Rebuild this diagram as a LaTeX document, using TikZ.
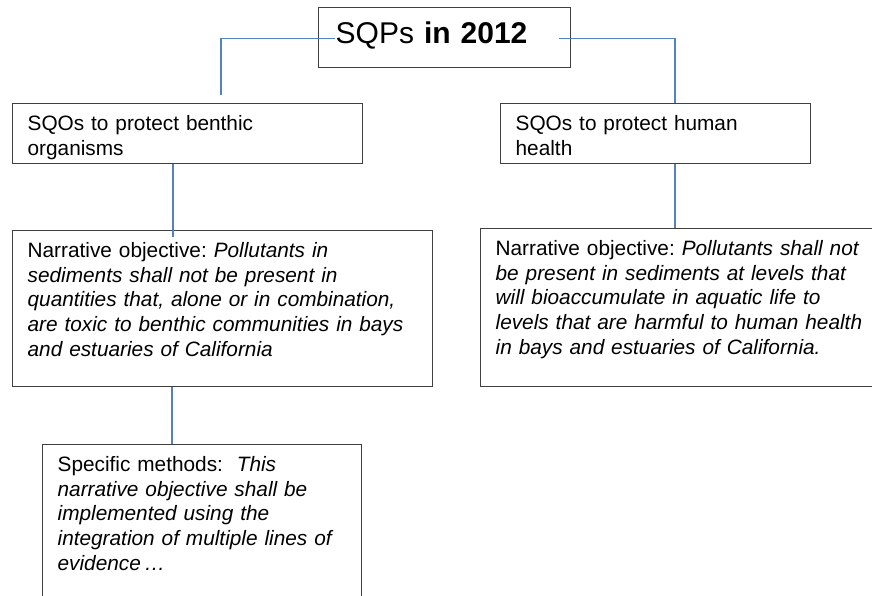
\documentclass[tikz,border=0pt]{standalone}
\usepackage{fontspec}
\setmainfont{Liberation Sans}
\usetikzlibrary{positioning}
\frenchspacing

\definecolor{linkblue}{RGB}{84,130,190}

\begin{document}
\begin{tikzpicture}[x=1pt,y=-1pt,
    box/.style={draw=black!75, line width=1.3pt, anchor=north west, align=left,
      inner xsep=15pt, inner ysep=0pt, text height=27pt,
      font=\fontsize{20.8}{24.6}\selectfont},
    link/.style={draw=linkblue, line width=1.1pt}]
    \useasboundingbox (0,0) rectangle (872,596);

    \node[box, text width=218pt, inner xsep=17pt, text height=36pt, text depth=24pt,
      font=\fontsize{30}{32}\selectfont] (top) at (318,7) {SQPs \textbf{in 2012}};

    \node[box, text width=320pt, text depth=33pt] (benthic) at (12,103)
      {SQOs to protect benthic\\organisms};
    \node[box, text width=280pt, text depth=33pt] (human) at (500,103)
      {SQOs to protect human\\health};

    \node[box, text width=390pt, text depth=129pt] (narrleft) at (12,230)
      {Narrative objective: \textit{Pollutants in}\\
       \textit{sediments shall not be present in}\\
       \textit{quantities that, alone or in combination,}\\
       \textit{are toxic to benthic communities in bays}\\
       \textit{and estuaries of California}};
    \node[box, text width=374pt, inner xsep=9pt, text depth=131pt] (narrright) at (480,228)
      {\leftskip=6pt Narrative objective: \textit{Pollutants shall not}\\
       \textit{be present in sediments at levels that}\\
       \textit{will bioaccumulate in aquatic life to}\\
       \textit{levels that are harmful to human health}\\
       \textit{in bays and estuaries of California.}\par};

    \node[box, text width=289pt, text depth=153pt] (methods) at (42,444)
      {Specific methods:\ \ \textit{This}\\
       \textit{narrative objective shall be}\\
       \textit{implemented using the}\\
       \textit{integration of multiple lines of}\\
       \textit{evidence\,…}};

    \draw[link] ([xshift=17pt,yshift=-1pt]top.west) -| ([xshift=209pt,yshift=8pt]benthic.north west);
    \draw[link] ([xshift=-12pt,yshift=-1pt]top.east) -| ([xshift=175pt]human.north west);
    \draw[link] ([xshift=161pt]benthic.south west) -- ([xshift=161pt,yshift=-7pt]narrleft.north west);
    \draw[link] ([xshift=175pt]human.south west) -- ([xshift=195pt]narrright.north west);
    \draw[link] ([xshift=160pt]narrleft.south west) -- ([xshift=130pt]methods.north west);
\end{tikzpicture}
\end{document}
